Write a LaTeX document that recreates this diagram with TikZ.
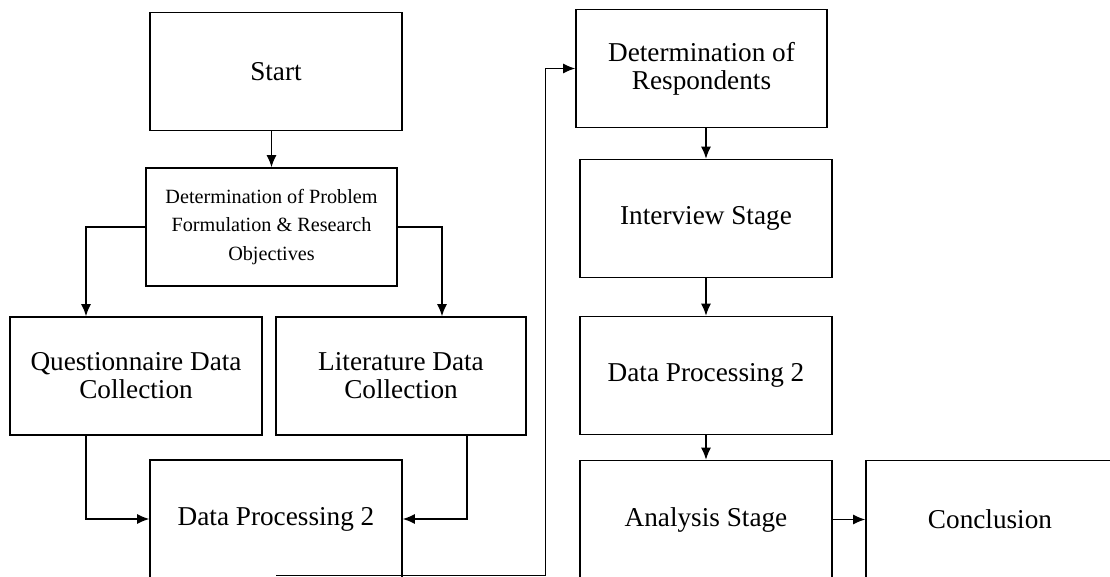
\documentclass[tikz,border=0pt]{standalone}
\usepackage{fontspec}
\setmainfont{Liberation Serif}
\usetikzlibrary{arrows.meta}

\begin{document}
\begin{tikzpicture}
  [x=0.02cm,y=-0.02cm,line width=0.8pt,>={Latex[length=0.24cm,width=0.2cm]},
   every node/.style={rectangle, draw, line width=0.9pt, minimum width=5.04cm,
     minimum height=2.36cm, align=center, font=\fontsize{15.5}{16}\selectfont}]
  \useasboundingbox (0,0) rectangle (1110,577);

  \node (start) at (276,71.5)  {Start};
  \node[minimum width=5.02cm, font=\fontsize{11.5}{16}\selectfont]
        (prob)  at (271.5,227) {Determination of Problem\\Formulation \& Research\\Objectives};
  \node (quest) at (136,376)   {Questionnaire Data\\Collection};
  \node[minimum width=5cm] (lit) at (401,376) {Literature Data\\Collection};
  \node (dpa)   at (276,519)   {Data Processing 2};

  \node[minimum width=5.02cm] (resp) at (701.5,68.5) {Determination of\\Respondents};
  \node (intv)  at (706,218.5) {Interview Stage};
  \node (dpb)   at (706,375.5) {Data Processing 2};
  \node (anal)  at (706,519.5) {Analysis Stage};
  \node[minimum width=4.96cm] (concl) at (990,519.5) {Conclusion};

  \coordinate (dpout) at ([yshift=0.06cm]dpa.south);

  \draw[->] (prob.north |- start.south) -- (prob.north);
  \draw[->] (prob.west) -| ([xshift=-1cm]quest.north);
  \draw[->] (prob.east) -| ([xshift=0.82cm]lit.north);
  \draw[->] ([xshift=-1cm]quest.south) |- (dpa.west);
  \draw[->] ([xshift=1.32cm]lit.south) |- (dpa.east);
  \draw[->] (dpout) -| ([xshift=-0.6cm]resp.west) -- (resp.west);
  \draw[->] (intv.north |- resp.south) -- (intv.north);

  \foreach \from/\to in {intv/dpb,dpb/anal,anal/concl}
    \draw[->] (\from) -- (\to);

\end{tikzpicture}
\end{document}
